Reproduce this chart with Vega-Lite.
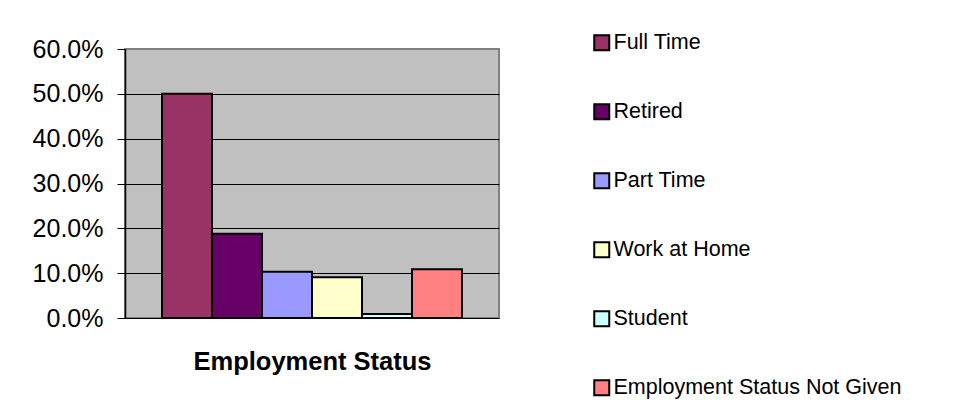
{
  "$schema": "https://vega.github.io/schema/vega-lite/v6.json",
  "autosize": {"type": "none"},
  "width": 374,
  "height": 269,
  "padding": {"left": 125, "top": 49, "right": 462, "bottom": 93},
  "background": "white",
  "config": {
    "font": "Liberation Sans",
    "view": {"fill": "#C0C0C0", "stroke": "#808080", "strokeWidth": 2}
  },
  "data": {
    "values": [
      {"status": "Full Time", "share": 0.500},
      {"status": "Retired", "share": 0.188},
      {"status": "Part Time", "share": 0.103},
      {"status": "Work at Home", "share": 0.091},
      {"status": "Student", "share": 0.009},
      {"status": "Employment Status Not Given", "share": 0.109}
    ]
  },
  "mark": {"type": "bar", "stroke": "#000000", "strokeWidth": 2},
  "encoding": {
    "x": {
      "field": "status",
      "type": "nominal",
      "sort": null,
      "scale": {"paddingInner": 0, "paddingOuter": 0.74},
      "axis": {
        "labels": false,
        "ticks": false,
        "domain": false,
        "title": "Employment Status",
        "titleFontSize": 25.5,
        "titleFontWeight": "bold",
        "titleColor": "#000000",
        "titlePadding": 31
      }
    },
    "y": {
      "field": "share",
      "type": "quantitative",
      "scale": {"domain": [0, 0.6], "nice": false},
      "axis": {
        "title": null,
        "format": ".1%",
        "values": [0, 0.1, 0.2, 0.3, 0.4, 0.5, 0.6],
        "grid": true,
        "gridColor": {"condition": {"test": "datum.value > 0.55", "value": "#808080"}, "value": "#000000"},
        "gridOpacity": 1,
        "gridWidth": 1,
        "domainColor": "#000000",
        "domainWidth": 1.5,
        "tickColor": "#000000",
        "tickSize": 8,
        "tickWidth": 1,
        "labelFontSize": 25,
        "labelColor": "#000000",
        "labelPadding": 14
      }
    },
    "color": {
      "field": "status",
      "type": "nominal",
      "sort": null,
      "scale": {
        "domain": ["Full Time", "Retired", "Part Time", "Work at Home", "Student", "Employment Status Not Given"],
        "range": ["#993366", "#660066", "#9999FF", "#FFFFCC", "#CCFFFF", "#FF8080"]
      },
      "legend": {
        "title": null,
        "orient": "none",
        "legendX": 466,
        "legendY": -17,
        "direction": "vertical",
        "padding": 0,
        "symbolType": "square",
        "symbolSize": 225,
        "symbolStrokeColor": "#000000",
        "symbolStrokeWidth": 2,
        "symbolOpacity": 1,
        "labelFontSize": 21.5,
        "labelColor": "#000000",
        "labelOffset": 1,
        "labelLimit": 500,
        "rowPadding": 45
      }
    }
  }
}
